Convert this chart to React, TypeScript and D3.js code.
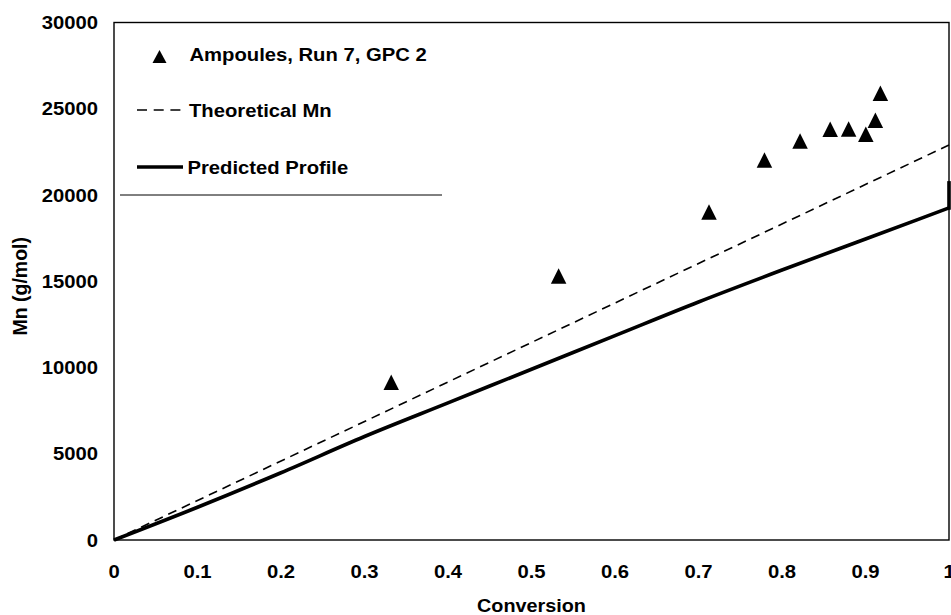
import React from "react";
import * as d3 from "d3";

const xTickValues = [0, 0.1, 0.2, 0.3, 0.4, 0.5, 0.6, 0.7, 0.8, 0.9, 1];
const xTickLabels = ["0", "0.1", "0.2", "0.3", "0.4", "0.5", "0.6", "0.7", "0.8", "0.9", "1"];
const yTickValues = [0, 5000, 10000, 15000, 20000, 25000, 30000];
const yTickLabels = ["0", "5000", "10000", "15000", "20000", "25000", "30000"];

// Ampoules, Run 7, GPC 2
const ampConversion = [0.332, 0.5325, 0.7126, 0.779, 0.8216, 0.8577, 0.8798, 0.9004, 0.9118, 0.9178];
const ampMn = [9150, 15300, 19014, 22029, 23130, 23814, 23826, 23525, 24328, 25893];

// Theoretical Mn
const theoConversion = [0, 1];
const theoMn = [0, 22900];

// Predicted profile (curve, then the final vertical rise at full conversion)
const predConversion = [0, 0.1, 0.2, 0.3, 0.4, 0.5, 0.6, 0.7, 0.8, 0.9, 1.0];
const predMn = [0, 1900, 3900, 6000, 7950, 9900, 11850, 13800, 15650, 17450, 19250];
const predEndConversion = [1.0, 1.0];
const predEndMn = [19250, 20700];

const legendLabels = ["Ampoules, Run 7, GPC 2", "Theoretical Mn", "Predicted Profile"];

const FONT = "'Liberation Sans', Arial, Helvetica, sans-serif";
const SX = 1.1;

function T({ x, y, anchor = "start", size = 18.4, children }: any) {
  return (
    <g transform={`translate(${x},${y}) scale(${SX},1)`}>
      <text x={0} y={0} textAnchor={anchor} fontFamily={FONT} fontWeight="bold" fontSize={size} fill="#000">
        {children}
      </text>
    </g>
  );
}

export default function App() {
  const W = 951, H = 615;
  const left = 114, right = 949, top = 22.5, bottom = 540;
  const x = d3.scaleLinear().domain([0, 1]).range([left, right]);
  const y = d3.scaleLinear().domain([0, 30000]).range([bottom, top]);

  const line = d3.line<[number, number]>().x((d) => x(d[0])).y((d) => y(d[1]));
  const curve = d3.line<[number, number]>().x((d) => x(d[0])).y((d) => y(d[1])).curve(d3.curveMonotoneX);
  const theoPath = line(theoConversion.map((c, i) => [c, theoMn[i]]) as [number, number][]) || "";
  const predPath = curve(predConversion.map((c, i) => [c, predMn[i]]) as [number, number][]) || "";
  const predEndPath = line(predEndConversion.map((c, i) => [c, predEndMn[i]]) as [number, number][]) || "";

  const tri = (cx: number, cy: number, w: number, h: number) =>
    `M${cx},${cy - h / 2}L${cx + w / 2},${cy + h / 2}L${cx - w / 2},${cy + h / 2}Z`;

  return (
    <svg width={W} height={H} style={{ position: "absolute", left: 0, top: 0, background: "#fff" }}>
      <rect x={0} y={0} width={W} height={H} fill="#fff" />
      {/* plot frame */}
      <rect x={left} y={top} width={right - left} height={bottom - top} fill="none" stroke="#000" strokeWidth={1.4} />

      {/* theoretical line */}
      <path d={theoPath} fill="none" stroke="#000" strokeWidth={1.6} strokeDasharray="9,6" />
      {/* predicted profile */}
      <path d={predPath} fill="none" stroke="#000" strokeWidth={3.6} />
      <path d={predEndPath} fill="none" stroke="#000" strokeWidth={3.6} strokeLinecap="square" />

      {/* ampoule markers */}
      {ampConversion.map((c, i) => (
        <path key={i} d={tri(x(c), y(ampMn[i]), 15.5, 15.5)} fill="#000" />
      ))}

      {/* y ticks */}
      {yTickValues.map((v, i) => (
        <T key={i} x={98} y={y(v) + 6.5} anchor="end">
          {yTickLabels[i]}
        </T>
      ))}
      {/* x ticks */}
      {xTickValues.map((v, i) => (
        <T key={i} x={x(v)} y={578} anchor="middle">
          {xTickLabels[i]}
        </T>
      ))}

      {/* axis titles */}
      <T x={(left + right) / 2} y={612} anchor="middle" size={18}>
        Conversion
      </T>
      <text
        transform={`translate(26.5,${(top + bottom) / 2 + 5}) rotate(-90)`}
        textAnchor="middle"
        fontFamily={FONT}
        fontWeight="bold"
        fontSize={19.5}
        fill="#000"
      >
        Mn (g/mol)
      </text>

      {/* legend */}
      <line x1={120} x2={442} y1={195} y2={195} stroke="#000" strokeWidth={1} />
      <path d={tri(159.5, 56.5, 14, 13)} fill="#000" />
      <T x={189.5} y={60.7}>{legendLabels[0]}</T>
      <line x1={137} x2={181} y1={110} y2={110} stroke="#000" strokeWidth={1.6} strokeDasharray="10,6.7" />
      <T x={189} y={116.5}>{legendLabels[1]}</T>
      <line x1={137} x2={183} y1={167} y2={167} stroke="#000" strokeWidth={3.6} />
      <T x={187.5} y={174}>{legendLabels[2]}</T>
    </svg>
  );
}
